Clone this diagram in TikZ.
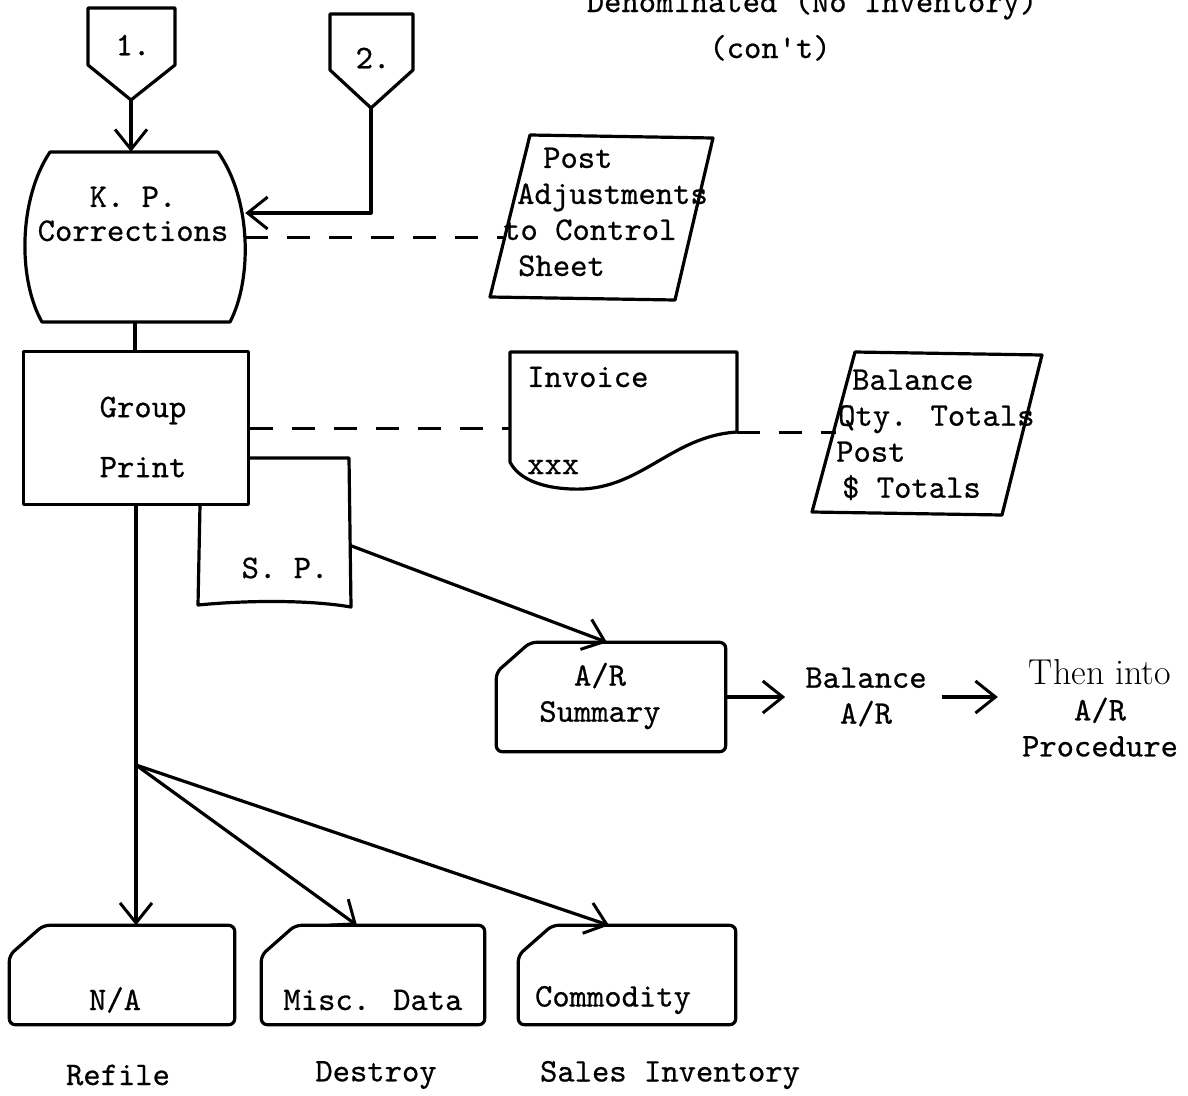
\documentclass[tikz,border=0pt]{standalone}
\usepackage{fontspec}
\usepackage{tikz}
\usetikzlibrary{arrows.meta}
\newfontfamily\typew{lmmono10-regular}[Extension=.otf, FakeBold=0.6]

\begin{document}
\begin{tikzpicture}[x=1pt, y=-1pt,
    flow/.style={line width=3.2pt, line join=round},
    link/.style={line width=3pt, dash pattern=on 23pt off 19pt},
    tip/.style={-{Straight Barb[length=20pt, width=32pt, line width=3pt]}},
    txt/.style={font=\fontsize{33}{36}\selectfont\typew, inner sep=0pt, align=center},
    area/.style n args={2}{minimum width=#1, minimum height=#2, inner sep=0pt}]
        \useasboundingbox (0,0) rectangle (1188,1095);
        \clip (0,0) rectangle (1188,1095);
        \node[txt, anchor=base] (title) at (812,12) {Denominated (No Inventory)};
        \node[txt, anchor=base] (cont) at (770,58) {(con't)};
        \draw[flow] (88,8) -- (175,8) -- (175,65) -- (131,100) -- (88,65) -- cycle;
        \coordinate (c1) at (131,100);
        \node[txt] (one) at (133,45) {1.};
        \draw[flow] (330,14) -- (413,14) -- (413,70) -- (371,108) -- (330,70) -- cycle;
        \coordinate (c2) at (371,108);
        \node[txt] (two) at (373,58) {2.};
        \node[area={220pt}{170pt}] (kp) at (135,237) {};
        \draw[flow] (50,152) -- (218,152) .. controls (252,200) and (252,280) .. (230,322) -- (42,322) .. controls (18,280) and (18,200) .. (50,152) -- cycle;
        \node[txt] (kpTxt) at (133,214) {K. P.\\[-2pt]Corrections};
        \draw[flow,tip] (c1) -- (c1 |- kp.north);
        \draw[flow,tip] (c2) |- ([yshift=24pt]kp.east);
        \draw[flow] (530,135) -- (713,138) -- (675,300) -- (490,297) -- cycle;
        \node[txt, align=left, anchor=west] (post) at (503,212) {\hspace*{40pt}Post\\\hspace*{14pt}Adjustments\\to Control\\\hspace*{15pt}Sheet};
        \draw[link] (kp.east) -- (kp.east -| post.west);
        \node[area={225pt}{153pt}, draw, flow] (gp) at (136,428) {};
        \node[txt] (gpTxt) at (143,437) {Group\\[24pt]Print};
        \draw[flow] (kp.south) -- (kp.south |- gp.north);
        \node[area={227pt}{160pt}] (inv) at (623,432) {};
        \draw[flow] (510,352) -- (737,352) -- (737,432) .. controls (670,436) and (640,492) .. (572,489) .. controls (540,488) and (518,478) .. (510,462) -- cycle;
        \node[txt, anchor=west] (invTxt) at (527,377) {Invoice};
        \node[txt, anchor=west] (invX) at (527,467) {xxx};
        \draw[link] (gp.east) -- (gp.east -| inv.west);
        \draw[flow] (855,352) -- (1042,355) -- (1002,515) -- (812,512) -- cycle;
        \node[txt, align=left, anchor=west] (bal) at (836,435) {\hspace*{16pt}Balance\\\hspace*{2pt}Qty. Totals\\Post\\\hspace*{6pt}\$ Totals};
        \draw[link] (inv.east) -- (inv.east -| bal.west);
        \node[area={153pt}{149pt}] (sp) at (275,532) {};
        \draw[flow] (250,458) -- (349,458) -- (351,607) .. controls (310,600) and (250,600) .. (198,605) -- (200,505);
        \node[txt] (spTxt) at (285,568) {S. P.};
        \node[area={229pt}{109pt}] (ar) at (611,697) {};
        \node[txt] (arTxt) at (600,696) {A/R\\Summary};
        \draw[flow,tip] ([yshift=-14pt]sp.east) -- ([xshift=-4pt]ar.north);
        \node[txt] (balAR) at (866,697) {Balance\\A/R};
        \node[txt] (then) at (1100,708) {{\fontsize{36}{36}\selectfont\rmfamily Then into}\\A/R\\Procedure};
        \draw[flow,tip,shorten >=20pt] (ar.east) -- (balAR.west);
        \draw[flow,tip,shorten <=15pt,shorten >=24pt] (balAR.east) -- (balAR.east -| then.west);
        \node[area={225pt}{99pt}] (na) at (122,975) {};
        \node[area={223pt}{99pt}] (misc) at (373,975) {};
        \node[area={217pt}{99pt}] (com) at (627,975) {};
        \foreach \c in {ar,na,misc,com}
            \draw[flow, rounded corners=6pt] (\c.south west) -- ([yshift=-30pt]\c.north west) -- ([xshift=34pt]\c.north west) -- (\c.north east) -- (\c.south east) -- cycle;
        \coordinate (fork) at (136,765);
        \draw[flow,tip] (gp.south) -- (gp.south |- na.north);
        \draw[flow,tip] (fork) -- ([xshift=-16pt]misc.north);
        \draw[flow,tip] (fork) -- ([xshift=-18pt]com.north);
        \node[txt] (naTxt) at (115,1000) {N/A};
        \node[txt] (miscTxt) at (373,1000) {Misc. Data};
        \node[txt] (comTxt) at (613,1000) {Commodity};
        \node[txt] (refile) at (118,1075) {Refile};
        \node[txt] (destroy) at (376,1075) {Destroy};
        \node[txt] (sales) at (670,1075) {Sales Inventory};
    \end{tikzpicture}
\end{document}
